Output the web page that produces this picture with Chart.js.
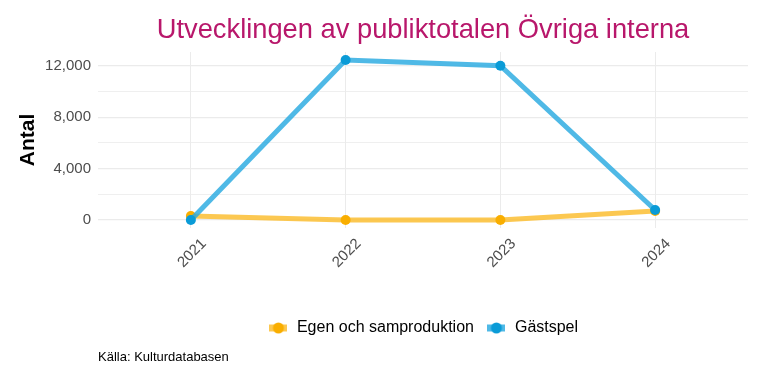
<!DOCTYPE html>
<html>
<head>
<meta charset="utf-8">
<script src="https://cdn.jsdelivr.net/npm/chart.js@4"></script>
<style>
  html, body { margin: 0; padding: 0; background: #fff; }
  #wrap { width: 768px; height: 384px; }
</style>
</head>
<body>
<div id="wrap"><canvas id="chart" width="768" height="384"></canvas></div>
<script>
// data
const years = [2021, 2022, 2023, 2024];
const egen = [310, 0, 0, 700];
const gastspel = [0, 12450, 12000, 780];
const yTicks = [0, 2000, 4000, 6000, 8000, 10000, 12000];

const FONT = "'Liberation Sans', Arial, sans-serif";

// legend swatch: short line with a dot, like ggplot
function swatch(lineCol, dotCol) {
    const c = document.createElement('canvas');
    c.width = 18; c.height = 14;
    const g = c.getContext('2d');
    g.strokeStyle = lineCol;
    g.lineWidth = 7;
    g.beginPath(); g.moveTo(0, 7); g.lineTo(18, 7); g.stroke();
    g.fillStyle = dotCol;
    g.beginPath(); g.arc(9, 7, 5.5, 0, Math.PI * 2); g.fill();
    return c;
}

const series = [
    { label: 'Egen och samproduktion', values: egen, line: 'rgba(251,190,50,0.85)', dot: '#f9ae00', order: 1 },
    { label: 'Gästspel', values: gastspel, line: 'rgba(40,170,225,0.82)', dot: '#0a9bd7', order: 0 }
];

// title centred over the plot panel, caption under the legend
const texts = {
    id: 'texts',
    afterLayout(chart) {
        // centre the legend under the plot panel instead of the canvas
        const a = chart.chartArea;
        const lg = chart.legend;
        const shift = (a.left + a.right) / 2 - (lg.left + lg.right) / 2;
        lg.left += 2 * shift;
    },
    afterDraw(chart) {
        const g = chart.ctx;
        const a = chart.chartArea;
        g.save();
        g.textBaseline = 'alphabetic';
        g.font = '27.3px ' + FONT;
        g.fillStyle = '#b8176b';
        g.textAlign = 'center';
        g.fillText('Utvecklingen av publiktotalen Övriga interna', (a.left + a.right) / 2, 38);
        g.font = '13px ' + FONT;
        g.fillStyle = '#000';
        g.textAlign = 'left';
        g.fillText('Källa: Kulturdatabasen', a.left, 361);
        g.restore();
    }
};

const ctx = document.getElementById('chart').getContext('2d');
new Chart(ctx, {
    type: 'line',
    data: {
        datasets: series.map(s => ({
            label: s.label,
            data: years.map((y, i) => ({ x: y, y: s.values[i] })),
            borderColor: s.line,
            backgroundColor: s.dot,
            pointBackgroundColor: s.dot,
            pointBorderWidth: 0,
            pointRadius: 5,
            borderWidth: 5,
            order: s.order,
            tension: 0
        }))
    },
    options: {
        responsive: false,
        animation: false,
        layout: { padding: { left: 10, right: 20, top: 52, bottom: 38 } },
        plugins: {
            title: { display: false },
            legend: {
                position: 'bottom',
                labels: {
                    usePointStyle: true,
                    pointStyleWidth: 21,
                    color: '#1a1a1a',
                    font: { family: FONT, size: 16 },
                    padding: 12,
                    generateLabels: chart => series.map((s, i) => ({
                        text: s.label,
                        pointStyle: swatch(s.line, s.dot),
                        fillStyle: s.dot,
                        strokeStyle: s.dot,
                        lineWidth: 0,
                        datasetIndex: i,
                        hidden: false
                    }))
                }
            },
            tooltip: { enabled: false }
        },
        scales: {
            x: {
                type: 'linear',
                min: 2020.4,
                max: 2024.6,
                afterBuildTicks: s => { s.ticks = years.map(v => ({ value: v })); },
                afterFit: s => { s.height = 80; },
                grid: { color: '#ebebeb', drawTicks: false },
                border: { display: false },
                ticks: {
                    color: '#4d4d4d',
                    font: { family: FONT, size: 15 },
                    maxRotation: 45,
                    minRotation: 45,
                    padding: 7,
                    labelOffset: 13,
                    callback: v => String(v)
                }
            },
            y: {
                min: -622,
                max: 13072,
                afterBuildTicks: s => { s.ticks = yTicks.map(v => ({ value: v })); },
                afterFit: s => { s.width = 88; },
                grid: {
                    color: '#ebebeb',
                    drawTicks: false,
                    lineWidth: c => (c.tick && c.tick.value % 4000 === 0) ? 1.2 : 0.8
                },
                border: { display: false },
                title: {
                    display: true,
                    text: 'Antal',
                    color: '#000',
                    font: { family: FONT, size: 21, weight: 'bold' },
                    padding: { top: 6, bottom: 6 }
                },
                ticks: {
                    color: '#4d4d4d',
                    font: { family: FONT, size: 15 },
                    padding: 7,
                    callback: v => v % 4000 === 0 ? v.toLocaleString('en-US') : ''
                }
            }
        }
    },
    plugins: [texts]
});
</script>
</body>
</html>
